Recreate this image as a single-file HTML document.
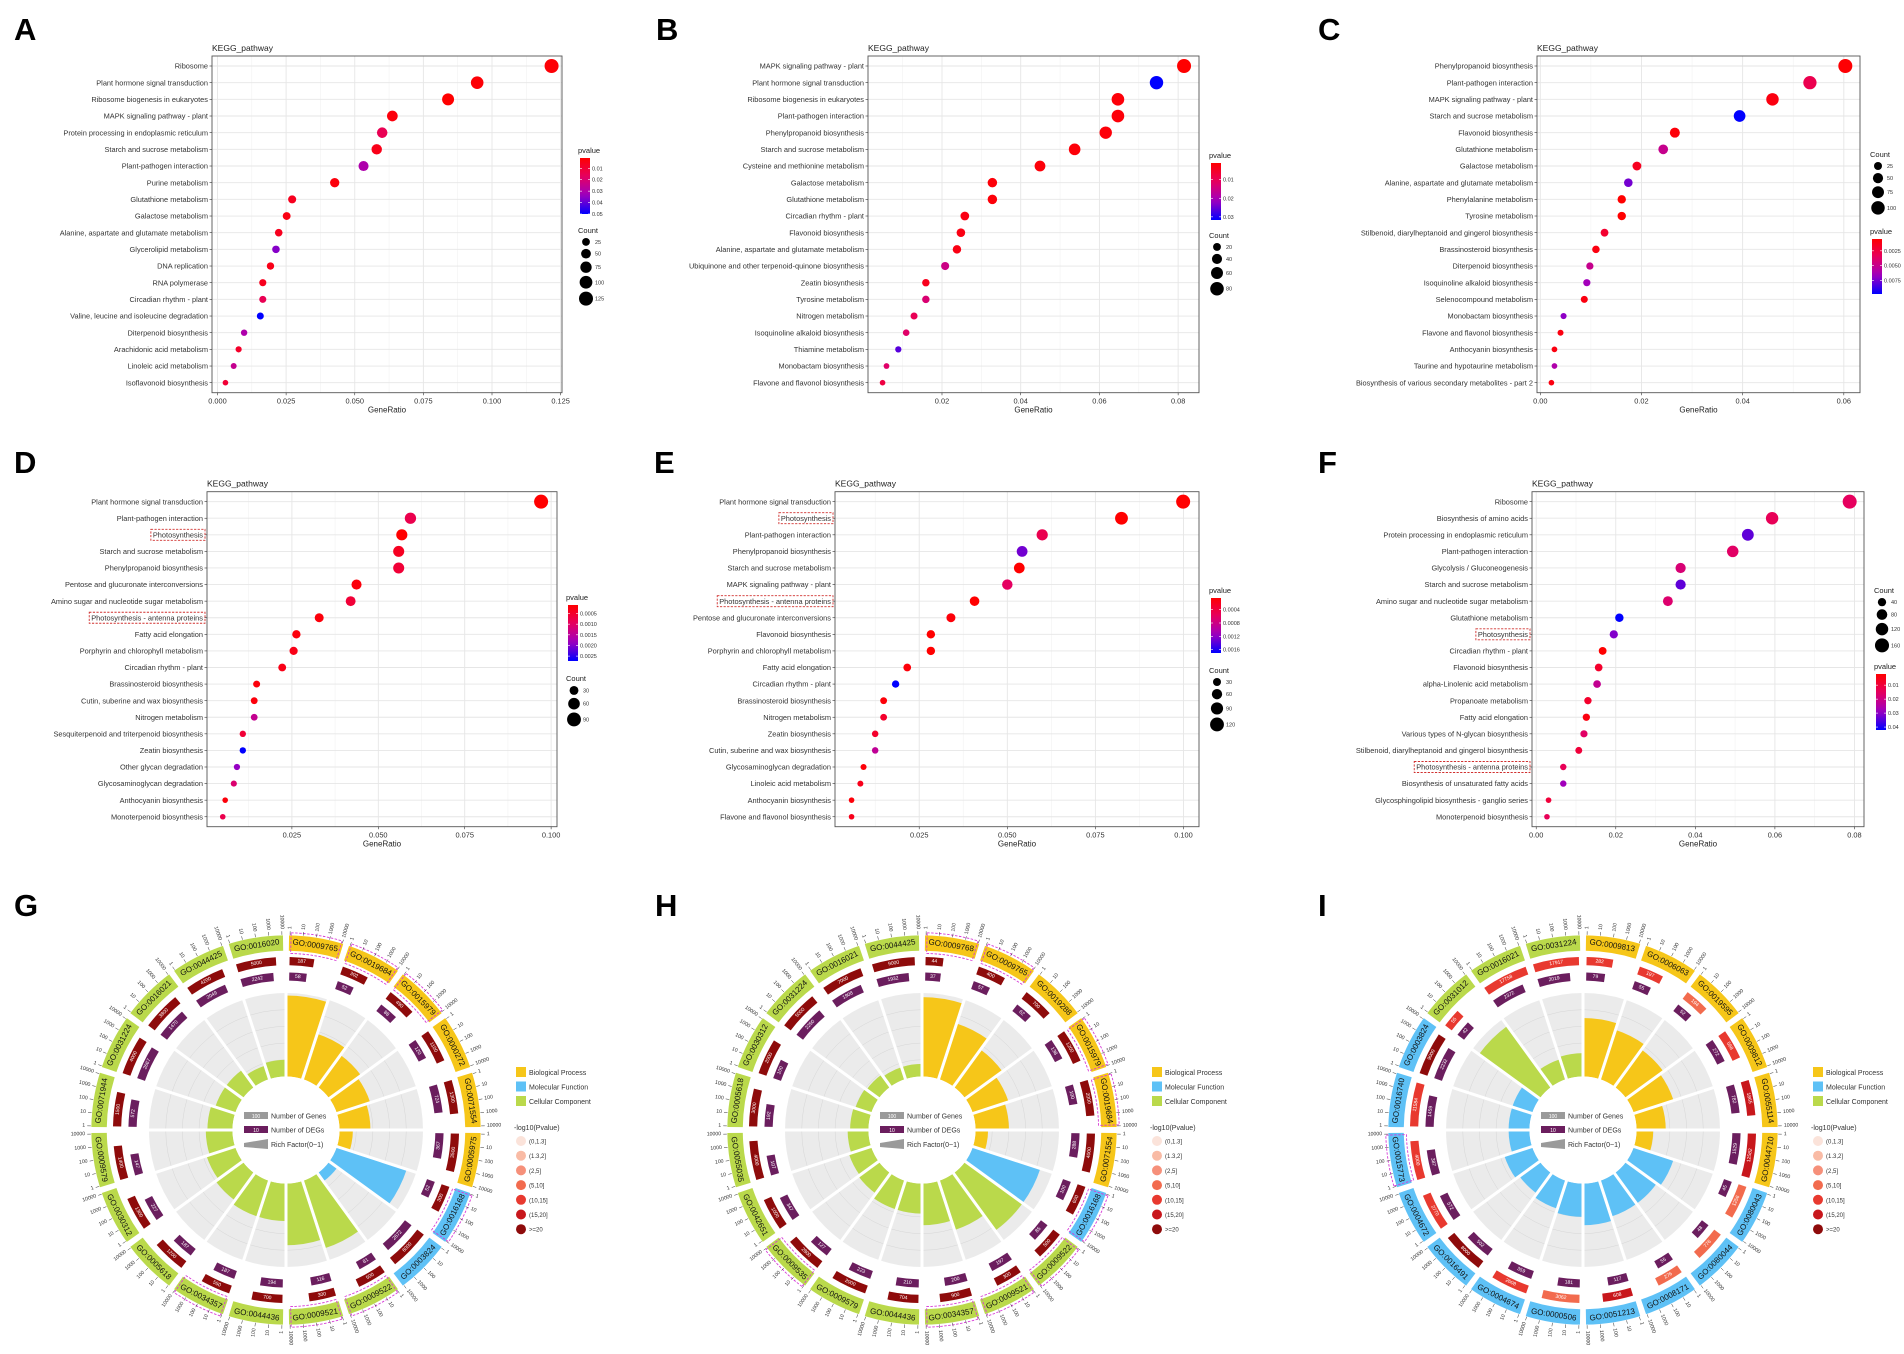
<!DOCTYPE html>
<html><head><meta charset="utf-8">
<style>
body{margin:0;background:#fff}
svg{display:block;font-family:"Liberation Sans",Arial,sans-serif}
</style></head>
<body>
<svg id="fig" width="1904" height="1354" viewBox="0 0 1904 1354">
<rect x="0" y="0" width="1904" height="1354" fill="#fff"/>
<g font-weight="bold" font-size="31" fill="#000">
<text x="14" y="40">A</text>
<text x="656" y="40">B</text>
<text x="1318" y="40">C</text>
<text x="14" y="473">D</text>
<text x="654" y="473">E</text>
<text x="1318" y="473">F</text>
<text x="14" y="916">G</text>
<text x="655" y="916">H</text>
<text x="1318" y="916">I</text>
</g>
</svg>
<script>
// ---------------- Panel A data ----------------
const A_cats=["Ribosome","Plant hormone signal transduction","Ribosome biogenesis in eukaryotes","MAPK signaling pathway - plant","Protein processing in endoplasmic reticulum","Starch and sucrose metabolism","Plant-pathogen interaction","Purine metabolism","Glutathione metabolism","Galactose metabolism","Alanine, aspartate and glutamate metabolism","Glycerolipid metabolism","DNA replication","RNA polymerase","Circadian rhythm - plant","Valine, leucine and isoleucine degradation","Diterpenoid biosynthesis","Arachidonic acid metabolism","Linoleic acid metabolism","Isoflavonoid biosynthesis"];
const A_ratio=[0.1217,0.0946,0.0840,0.0637,0.0600,0.0580,0.0532,0.0427,0.0272,0.0252,0.0223,0.0213,0.0193,0.0165,0.0165,0.0156,0.0097,0.0077,0.0059,0.0029];
const A_count=[125,97,86,65,62,60,55,44,28,26,23,22,20,17,17,16,10,8,6,3];
const A_pval=[0.002,0.002,0.001,0.003,0.015,0.005,0.03,0.003,0.006,0.004,0.006,0.036,0.005,0.006,0.015,0.05,0.03,0.008,0.025,0.01];
const A_xticks=[0,0.025,0.05,0.075,0.1,0.125];
const A_xtickLabels=["0.000","0.025","0.050","0.075","0.100","0.125"];
const A_pticks=[0.01,0.02,0.03,0.04,0.05];
const A_ptickLabels=["0.01","0.02","0.03","0.04","0.05"];
const A_cticks=[25,50,75,100,125];

// ---------------- Panel B data ----------------
const B_cats=["MAPK signaling pathway - plant","Plant hormone signal transduction","Ribosome biogenesis in eukaryotes","Plant-pathogen interaction","Phenylpropanoid biosynthesis","Starch and sucrose metabolism","Cysteine and methionine metabolism","Galactose metabolism","Glutathione metabolism","Circadian rhythm - plant","Flavonoid biosynthesis","Alanine, aspartate and glutamate metabolism","Ubiquinone and other terpenoid-quinone biosynthesis","Zeatin biosynthesis","Tyrosine metabolism","Nitrogen metabolism","Isoquinoline alkaloid biosynthesis","Thiamine metabolism","Monobactam biosynthesis","Flavone and flavonol biosynthesis"];
const B_ratio=[0.0815,0.0745,0.0647,0.0647,0.0616,0.0537,0.0449,0.0328,0.0328,0.0258,0.0248,0.0238,0.0208,0.0159,0.0159,0.0129,0.0109,0.0089,0.0059,0.0049];
const B_count=[86,78,68,68,65,56,47,34,34,27,26,25,22,17,17,14,11,9,6,5];
const B_pval=[0.001,0.0317,0.002,0.002,0.002,0.002,0.002,0.002,0.002,0.003,0.003,0.003,0.015,0.004,0.013,0.01,0.012,0.026,0.012,0.008];
const B_xticks=[0.02,0.04,0.06,0.08];
const B_xtickLabels=["0.02","0.04","0.06","0.08"];
const B_pticks=[0.01,0.02,0.03];
const B_ptickLabels=["0.01","0.02","0.03"];
const B_cticks=[20,40,60,80];

// ---------------- Panel C data ----------------
const C_cats=["Phenylpropanoid biosynthesis","Plant-pathogen interaction","MAPK signaling pathway - plant","Starch and sucrose metabolism","Flavonoid biosynthesis","Glutathione metabolism","Galactose metabolism","Alanine, aspartate and glutamate metabolism","Phenylalanine metabolism","Tyrosine metabolism","Stilbenoid, diarylheptanoid and gingerol biosynthesis","Brassinosteroid biosynthesis","Diterpenoid biosynthesis","Isoquinoline alkaloid biosynthesis","Selenocompound metabolism","Monobactam biosynthesis","Flavone and flavonol biosynthesis","Anthocyanin biosynthesis","Taurine and hypotaurine metabolism","Biosynthesis of various secondary metabolites - part 2"];
const C_ratio=[0.0603,0.0533,0.0459,0.0394,0.0266,0.0243,0.0191,0.0174,0.0161,0.0161,0.0127,0.0110,0.0098,0.0092,0.0087,0.0046,0.0040,0.0028,0.0028,0.0022];
const C_count=[109,96,83,71,48,44,34,31,29,29,23,20,18,17,16,8,7,5,5,4];
const C_pval=[0.0006,0.003,0.001,0.0098,0.0008,0.005,0.0015,0.0075,0.0005,0.0005,0.002,0.001,0.005,0.0065,0.001,0.007,0.001,0.001,0.006,0.001];
const C_xticks=[0,0.02,0.04,0.06];
const C_xtickLabels=["0.00","0.02","0.04","0.06"];
const C_pticks=[0.0025,0.005,0.0075];
const C_ptickLabels=["0.0025","0.0050","0.0075"];
const C_cticks=[25,50,75,100];

// ---------------- Panel D data ----------------
const D_cats=["Plant hormone signal transduction","Plant-pathogen interaction","Photosynthesis","Starch and sucrose metabolism","Phenylpropanoid biosynthesis","Pentose and glucuronate interconversions","Amino sugar and nucleotide sugar metabolism","Photosynthesis - antenna proteins","Fatty acid elongation","Porphyrin and chlorophyll metabolism","Circadian rhythm - plant","Brassinosteroid biosynthesis","Cutin, suberine and wax biosynthesis","Nitrogen metabolism","Sesquiterpenoid and triterpenoid biosynthesis","Zeatin biosynthesis","Other glycan degradation","Glycosaminoglycan degradation","Anthocyanin biosynthesis","Monoterpenoid biosynthesis"];
const D_ratio=[0.0971,0.0593,0.0568,0.0559,0.0559,0.0437,0.0420,0.0329,0.0263,0.0255,0.0222,0.0148,0.0141,0.0141,0.0108,0.0108,0.0091,0.0082,0.0057,0.0050];
const D_count=[92,56,54,53,53,42,40,31,25,24,21,14,13,13,10,10,9,8,5,5];
const D_pval=[0.0001,0.0008,0.0001,0.0004,0.0006,0.0002,0.0006,0.0002,0.0002,0.0003,0.0003,0.0002,0.0002,0.0014,0.0006,0.00273,0.0019,0.0011,0.0002,0.0008];
const D_xticks=[0.025,0.05,0.075,0.1];
const D_xtickLabels=["0.025","0.050","0.075","0.100"];
const D_pticks=[0.0005,0.001,0.0015,0.002,0.0025];
const D_ptickLabels=["0.0005","0.0010","0.0015","0.0020","0.0025"];
const D_cticks=[30,60,90];
const D_highlight=[2,7];

// ---------------- Panel E data ----------------
const E_cats=["Plant hormone signal transduction","Photosynthesis","Plant-pathogen interaction","Phenylpropanoid biosynthesis","Starch and sucrose metabolism","MAPK signaling pathway - plant","Photosynthesis - antenna proteins","Pentose and glucuronate interconversions","Flavonoid biosynthesis","Porphyrin and chlorophyll metabolism","Fatty acid elongation","Circadian rhythm - plant","Brassinosteroid biosynthesis","Nitrogen metabolism","Zeatin biosynthesis","Cutin, suberine and wax biosynthesis","Glycosaminoglycan degradation","Linoleic acid metabolism","Anthocyanin biosynthesis","Flavone and flavonol biosynthesis"];
const E_ratio=[0.0999,0.0824,0.0599,0.0542,0.0534,0.0500,0.0407,0.0340,0.0283,0.0283,0.0216,0.0183,0.0149,0.0149,0.0125,0.0125,0.0092,0.0083,0.0058,0.0058];
const E_count=[123,101,74,67,66,62,50,42,35,35,27,23,18,18,15,15,11,10,7,7];
const E_pval=[0.00005,0.00005,0.0005,0.0013,0.00005,0.0006,0.00005,0.0001,0.00005,0.00005,0.0001,0.0017,0.0001,0.0003,0.0003,0.0009,0.0001,0.0002,0.0001,0.0002];
const E_xticks=[0.025,0.05,0.075,0.1];
const E_xtickLabels=["0.025","0.050","0.075","0.100"];
const E_pticks=[0.0004,0.0008,0.0012,0.0016];
const E_ptickLabels=["0.0004","0.0008","0.0012","0.0016"];
const E_cticks=[30,60,90,120];
const E_highlight=[1,6];

// ---------------- Panel F data ----------------
const F_cats=["Ribosome","Biosynthesis of amino acids","Protein processing in endoplasmic reticulum","Plant-pathogen interaction","Glycolysis / Gluconeogenesis","Starch and sucrose metabolism","Amino sugar and nucleotide sugar metabolism","Glutathione metabolism","Photosynthesis","Circadian rhythm - plant","Flavonoid biosynthesis","alpha-Linolenic acid metabolism","Propanoate metabolism","Fatty acid elongation","Various types of N-glycan biosynthesis","Stilbenoid, diarylheptanoid and gingerol biosynthesis","Photosynthesis - antenna proteins","Biosynthesis of unsaturated fatty acids","Glycosphingolipid biosynthesis - ganglio series","Monoterpenoid biosynthesis"];
const F_ratio=[0.0788,0.0593,0.0532,0.0494,0.0363,0.0363,0.0331,0.0209,0.0195,0.0167,0.0157,0.0153,0.0130,0.0126,0.0120,0.0107,0.0068,0.0068,0.0031,0.0027];
const F_count=[158,119,106,99,73,73,66,42,39,33,31,31,26,25,24,21,14,14,6,5];
const F_pval=[0.015,0.014,0.034,0.016,0.018,0.034,0.017,0.0421,0.031,0.002,0.008,0.022,0.008,0.004,0.016,0.01,0.014,0.028,0.01,0.014];
const F_xticks=[0,0.02,0.04,0.06,0.08];
const F_xtickLabels=["0.00","0.02","0.04","0.06","0.08"];
const F_pticks=[0.01,0.02,0.03,0.04];
const F_ptickLabels=["0.01","0.02","0.03","0.04"];
const F_cticks=[40,80,120,160];
const F_highlight=[8,16];

// ---------------- GO circle data ----------------
const G_ids=["GO:0009765","GO:0019684","GO:0015979","GO:0000272","GO:0071554","GO:0005975","GO:0016168","GO:0003824","GO:0009522","GO:0009521","GO:0044436","GO:0034357","GO:0005618","GO:0030312","GO:0009579","GO:0071944","GO:0031224","GO:0016021","GO:0044425","GO:0016020"];
const G_cat=[0,0,0,0,0,0,1,1,2,2,2,2,2,2,2,2,2,2,2,2];
const G_rf=[0.97,0.57,0.47,0.42,0.37,0.16,0.88,0.12,0.85,0.74,0.45,0.45,0.4,0.36,0.32,0.3,0.25,0.25,0.17,0.2];
const G_genes=[187,302,490,1100,1300,3500,300,6000,500,300,700,550,1200,1300,1400,1500,4000,3800,4200,5000];
const G_degs=[58,52,88,120,724,367,52,2672,81,116,194,187,187,227,147,572,2667,1470,2049,2242];
const G_gcol=[6,6,6,6,6,6,6,6,6,6,6,6,6,6,6,6,6,6,6,6];
const G_hl=[0,1,2,6,8,9,11];

const H_ids=["GO:0009768","GO:0009765","GO:0019288","GO:0015979","GO:0019684","GO:0071554","GO:0016168","GO:0009522","GO:0009521","GO:0034357","GO:0044436","GO:0009579","GO:0009535","GO:0042651","GO:0055035","GO:0005618","GO:0030312","GO:0031224","GO:0016021","GO:0044425"];
const H_cat=[0,0,0,0,0,0,1,2,2,2,2,2,2,2,2,2,2,2,2,2];
const H_rf=[0.95,0.7,0.55,0.45,0.4,0.15,0.85,0.85,0.62,0.5,0.36,0.36,0.3,0.28,0.25,0.22,0.2,0.18,0.15,0.15];
const H_genes=[44,400,700,1200,2000,4000,600,500,300,900,704,2000,2800,1000,4000,3000,2000,5000,7000,9000];
const H_degs=[37,57,62,138,100,288,100,85,197,200,210,223,127,347,107,192,100,2250,1908,1932];
const H_gcol=[6,6,6,6,6,6,6,6,6,6,6,6,6,6,6,6,6,6,6,6];
const H_hl=[0,1,3,4,6,7,8,9,12];

const I_ids=["GO:0009813","GO:0006063","GO:0019595","GO:0009812","GO:0055114","GO:0044710","GO:0080043","GO:0080044","GO:0008171","GO:0051213","GO:0000506","GO:0004674","GO:0016491","GO:0004672","GO:0015773","GO:0016740","GO:0003824","GO:0031012","GO:0016021","GO:0031224"];
const I_cat=[0,0,0,0,0,0,1,1,1,1,1,1,1,1,1,1,1,2,2,2];
const I_rf=[0.7,0.62,0.55,0.5,0.35,0.2,0.5,0.45,0.45,0.5,0.4,0.35,0.3,0.35,0.25,0.25,0.25,0.9,0.25,0.28];
const I_genes=[282,197,194,568,1865,12582,1256,776,276,608,3062,2608,8000,2770,4000,11584,9000,55,17758,17917];
const I_degs=[79,55,52,272,782,1529,45,48,55,117,181,359,502,572,387,1459,2232,42,2372,2019];
const I_gcol=[4,4,3,4,5,5,3,3,3,5,3,4,6,4,4,4,6,4,4,4];
const I_hl=[14];

const CAT_COL=["#F6C619","#5EC1F6","#BAD94B"];
const CAT_NAMES=["Biological Process","Molecular Function","Cellular Component"];
const P_COL=["#FBE3DA","#F9BBA5","#F6907A","#F26B4E","#E8392F","#C8171C","#8E0B0B"];
const P_LABELS=["(0,1.3]","(1.3,2]","(2,5]","(5,10]","(10,15]","(15,20]",">=20"];
const TICK_LABELS=["1","10","100","1000","10000"];

// ---------------- helpers ----------------
const NS="http://www.w3.org/2000/svg";
const svg=document.getElementById("fig");
function mk(tag,attrs,parent){const e=document.createElementNS(NS,tag);for(const k in attrs)e.setAttribute(k,attrs[k]);(parent||svg).appendChild(e);return e;}
function tx(str,attrs,parent){const e=mk("text",attrs,parent);e.textContent=str;return e;}
const STOPS=[[0,[255,0,0]],[0.33,[230,0,96]],[0.66,[160,0,190]],[1,[0,0,255]]];
function pcol(t){t=Math.max(0,Math.min(1,t));for(let i=1;i<STOPS.length;i++){if(t<=STOPS[i][0]){const a=STOPS[i-1],b=STOPS[i];const f=(t-a[0])/(b[0]-a[0]);const c=a[1].map((v,j)=>Math.round(v+(b[1][j]-v)*f));return "rgb("+c.join(",")+")";}}return "rgb(0,0,255)";}
let gradId=0;

function dotPlot(P,cats,ratio,count,pval,xt,xtl,pt,ptl,ct,hl){
  const g=mk("g",{});
  
  
  const n=cats.length, step=(P.B-P.T)/(n+0.2);
  const xs=v=>P.L+(v-P.xmin)/(P.xmax-P.xmin)*(P.R-P.L);
  const ys=i=>P.T+(0.6+i)*step;
  const bg=mk("rect",{x:P.L,y:P.T,width:P.R-P.L,height:P.B-P.T,fill:"#fff"},g);
  
  
  const d=xt[1]-xt[0];
  for(let v=xt[0]-d/2;v<=P.xmax;v+=d){ if(v<P.xmin)continue;
    const l=mk("line",{x1:xs(v),x2:xs(v),y1:P.T,y2:P.B,stroke:"#f2f2f2","stroke-width":0.6},g);
    
    }
  xt.forEach(v=>{const l=mk("line",{x1:xs(v),x2:xs(v),y1:P.T,y2:P.B,stroke:"#e6e6e6","stroke-width":0.9},g);
    
    });
  cats.forEach((c,i)=>{const l=mk("line",{x1:P.L,x2:P.R,y1:ys(i),y2:ys(i),stroke:"#e6e6e6","stroke-width":0.9},g);
    
    });
  const bd=mk("rect",{x:P.L,y:P.T,width:P.R-P.L,height:P.B-P.T,fill:"none",stroke:"#555","stroke-width":0.9},g);
  
  
  const title=tx("KEGG_pathway",{x:P.L,y:P.T-5,"font-size":8.5,fill:"#222"},g);
  
  
  cats.forEach((c,i)=>{
    const t=tx(c,{x:P.L-4,y:ys(i)+2.6,"font-size":7.4,"text-anchor":"end",fill:"#333"},g);
    
    
    const tk=mk("line",{x1:P.L-2.5,x2:P.L,y1:ys(i),y2:ys(i),stroke:"#333","stroke-width":0.6},g);
    
    
    if(hl && hl.indexOf(i)>=0){const w=t.getComputedTextLength();
      const r=mk("rect",{x:P.L-6-w,y:ys(i)-5.5,width:w+4,height:11,fill:"none",stroke:"#D0302F","stroke-width":0.9,"stroke-dasharray":"2.2,1.4"},g);
      
      }
  });
  xt.forEach((v,k)=>{
    const tk=mk("line",{x1:xs(v),x2:xs(v),y1:P.B,y2:P.B+2.5,stroke:"#333","stroke-width":0.6},g);
    
    
    const t=tx(xtl[k],{x:xs(v),y:P.B+11,"font-size":7.4,"text-anchor":"middle",fill:"#333"},g);
    
    });
  const xl=tx("GeneRatio",{x:(P.L+P.R)/2,y:P.B+20,"font-size":8,"text-anchor":"middle",fill:"#222"},g);
  
  
  const pmin=Math.min(...pval),pmax=Math.max(...pval);
  const cmin=Math.min(...count),cmax=Math.max(...count);
  const rad=c=>Math.sqrt(2.8*2.8+(7*7-2.8*2.8)*Math.max(0,(c-cmin))/(cmax-cmin));
  cats.forEach((c,i)=>{
    const dot=mk("circle",{cx:xs(ratio[i]),cy:ys(i),r:rad(count[i]),fill:pcol((pval[i]-pmin)/(pmax-pmin))},g);
    
    });
  const drawP=(y0)=>{
    const lt=tx("pvalue",{x:P.lx-2,y:y0,"font-size":7.5,fill:"#222"},g);
    
    
    const id="grad"+(gradId++);
    const gr=mk("linearGradient",{id:id,x1:0,y1:0,x2:0,y2:1},g);
    for(let k=0;k<=10;k++){mk("stop",{offset:k/10,"stop-color":pcol(k/10)},gr);}
    const top=y0+5,bot=y0+5+P.bh;
    const bar=mk("rect",{x:P.lx,y:top,width:10,height:P.bh,fill:"url(#"+id+")"},g);
    
    
    pt.forEach((v,k)=>{const yy=top+(v-pmin)/(pmax-pmin)*(bot-top);
      const l1=mk("line",{x1:P.lx,x2:P.lx+2,y1:yy,y2:yy,stroke:"#fff","stroke-width":0.6},g);
      
      
      const l2=mk("line",{x1:P.lx+8,x2:P.lx+10,y1:yy,y2:yy,stroke:"#fff","stroke-width":0.6},g);
      
      
      const t=tx(ptl[k],{x:P.lx+12,y:yy+2,"font-size":5.5,fill:"#333"},g);
      
      });
  };
  const drawC=(y0)=>{
    const lt=tx("Count",{x:P.lx-2,y:y0,"font-size":7.5,fill:"#222"},g);
    
    
    let y=y0+5;
    ct.forEach(v=>{const r=rad(v);y+=r;
      const c=mk("circle",{cx:P.lx+6,cy:y,r:r,fill:"#000"},g);
      
      
      const t=tx(String(v),{x:P.lx+15,y:y+2,"font-size":5.5,fill:"#333"},g);
      
      
      y+=r+3;});
  };
  if(P.countFirst){drawC(P.ly1);drawP(P.ly2);}else{drawP(P.ly1);drawC(P.ly2);}
}

dotPlot({name:"panel-a-dotplot",L:212,R:562,T:56,B:392.7,xmin:-0.002,xmax:0.1255,lx:580,ly1:153,ly2:233,bh:56},A_cats,A_ratio,A_count,A_pval,A_xticks,A_xtickLabels,A_pticks,A_ptickLabels,A_cticks,null);
dotPlot({name:"panel-b-dotplot",L:868,R:1199,T:56,B:392.7,xmin:0.0012,xmax:0.0853,lx:1211,ly1:158,ly2:238,bh:57},B_cats,B_ratio,B_count,B_pval,B_xticks,B_xtickLabels,B_pticks,B_ptickLabels,B_cticks,null);
dotPlot({name:"panel-c-dotplot",L:1537,R:1860,T:56,B:392.7,xmin:-0.00065,xmax:0.0632,lx:1872,ly1:157,ly2:234,bh:55,countFirst:true},C_cats,C_ratio,C_count,C_pval,C_xticks,C_xtickLabels,C_pticks,C_ptickLabels,C_cticks,null);
dotPlot({name:"panel-d-dotplot",L:207,R:557,T:491.7,B:826.7,xmin:0.00044,xmax:0.1017,lx:568,ly1:600,ly2:681,bh:56},D_cats,D_ratio,D_count,D_pval,D_xticks,D_xtickLabels,D_pticks,D_ptickLabels,D_cticks,D_highlight);
dotPlot({name:"panel-e-dotplot",L:835,R:1199,T:491.7,B:826.7,xmin:0.0011,xmax:0.1044,lx:1211,ly1:593,ly2:673,bh:55},E_cats,E_ratio,E_count,E_pval,E_xticks,E_xtickLabels,E_pticks,E_ptickLabels,E_cticks,E_highlight);
dotPlot({name:"panel-f-dotplot",L:1532,R:1864,T:491.7,B:826.7,xmin:-0.00106,xmax:0.0824,lx:1876,ly1:593,ly2:669,bh:56,countFirst:true},F_cats,F_ratio,F_count,F_pval,F_xticks,F_xtickLabels,F_pticks,F_ptickLabels,F_cticks,F_highlight);

// ---------------- GO circle ----------------
function pt(cx,cy,r,a){const t=a*Math.PI/180;return [cx+r*Math.sin(t),cy-r*Math.cos(t)];}
function sector(cx,cy,r0,r1,a0,a1){
  const p1=pt(cx,cy,r1,a0),p2=pt(cx,cy,r1,a1),p3=pt(cx,cy,r0,a1),p4=pt(cx,cy,r0,a0);
  const lg=(a1-a0)>180?1:0;
  return "M"+p1[0]+","+p1[1]+"A"+r1+","+r1+" 0 "+lg+" 1 "+p2[0]+","+p2[1]+"L"+p3[0]+","+p3[1]+"A"+r0+","+r0+" 0 "+lg+" 0 "+p4[0]+","+p4[1]+"Z";
}
const SC=1.03;
function goCircle(name,cx,cy,ids,cat,rf,genes,degs,gcol,hl){
  const g=mk("g",{});
  
  
  const N=ids.length,sw=360/N,R0=52*SC,R1=133*SC;
  for(let i=0;i<N;i++){
    const a0=i*sw,a1=(i+1)*sw;
    const bgp=mk("path",{d:sector(cx,cy,R0,R1,a0,a1),fill:"#EBEBEB"},g);
    
    
  }
  for(let k=1;k<=4;k++){const c=mk("circle",{cx:cx,cy:cy,r:R0+(R1-R0)*k/5,fill:"none",stroke:"#d6d6d6","stroke-width":0.5},g);
    
    }
  for(let i=0;i<N;i++){
    const a0=i*sw,a1=(i+1)*sw;
    const b=mk("path",{d:sector(cx,cy,R0,R0+(R1-R0)*rf[i],a0,a1),fill:CAT_COL[cat[i]]},g);
    
    
  }
  for(let i=0;i<N;i++){const p1=pt(cx,cy,R0-1,i*sw),p2=pt(cx,cy,R1+1,i*sw);
    const l=mk("line",{x1:p1[0],y1:p1[1],x2:p2[0],y2:p2[1],stroke:"#fff","stroke-width":3},g);
    
    }
  const inner=mk("circle",{cx:cx,cy:cy,r:R0,fill:"#fff"},g);
  
  
  for(let i=0;i<N;i++){
    const a0=i*sw,a1=(i+1)*sw,am=(a0+a1)/2,span=sw-2.4;
    const ring=mk("path",{d:sector(cx,cy,174*SC,189*SC,a0+0.9,a1-0.9),fill:CAT_COL[cat[i]]},g);
    
    
    const lp=pt(cx,cy,181.5*SC,am);
    const rot=Math.cos(am*Math.PI/180)>=0?am:am-180;
    const lt=tx(ids[i],{x:lp[0],y:lp[1],"font-size":8,"text-anchor":"middle","dominant-baseline":"central",fill:"#111",transform:"rotate("+rot+" "+lp[0]+" "+lp[1]+")"},g);
    
    
    if(hl.indexOf(i)>=0){
      const h=mk("path",{d:sector(cx,cy,171.5*SC,191.5*SC,a0+1.5,a1-1.5),fill:"none",stroke:"#D63BD6","stroke-width":0.9,"stroke-dasharray":"2.5,1.5","stroke-linejoin":"round"},g);
      
      }
    for(let k=0;k<5;k++){
      const ta=a0+1.2+k*span/4;
      const q1=pt(cx,cy,189.5*SC,ta),q2=pt(cx,cy,193*SC,ta);
      const tl=mk("line",{x1:q1[0],y1:q1[1],x2:q2[0],y2:q2[1],stroke:"#333","stroke-width":0.5},g);
      
      
      const q3=pt(cx,cy,195*SC,ta);
      const right=ta<180;
      const tt=tx(TICK_LABELS[k],{x:q3[0],y:q3[1],"font-size":5.2,"text-anchor":right?"start":"end","dominant-baseline":"central",fill:"#333",transform:"rotate("+(right?ta-90:ta+90)+" "+q3[0]+" "+q3[1]+")"},g);
      
      
    }
    const fg=Math.min(1,Math.log10(genes[i])/4.3);
    const gb=mk("path",{d:sector(cx,cy,160*SC,168*SC,a0+1.2,a0+1.2+span*fg),fill:P_COL[gcol[i]]},g);
    
    
    const gm=a0+1.2+span*fg/2,gp=pt(cx,cy,164*SC,gm);
    const gr=Math.cos(gm*Math.PI/180)>=0?gm:gm-180;
    const gt=tx(String(genes[i]),{x:gp[0],y:gp[1],"font-size":5,"text-anchor":"middle","dominant-baseline":"central",fill:"#fff",transform:"rotate("+gr+" "+gp[0]+" "+gp[1]+")"},g);
    
    
    const fd=Math.min(1,Math.log10(degs[i])/4.3);
    const db=mk("path",{d:sector(cx,cy,145*SC,153*SC,a0+1.2,a0+1.2+span*fd),fill:"#6B1E5E"},g);
    
    
    const dm=a0+1.2+span*fd/2,dp=pt(cx,cy,149*SC,dm);
    const dr=Math.cos(dm*Math.PI/180)>=0?dm:dm-180;
    const dt=tx(String(degs[i]),{x:dp[0],y:dp[1],"font-size":5,"text-anchor":"middle","dominant-baseline":"central",fill:"#fff",transform:"rotate("+dr+" "+dp[0]+" "+dp[1]+")"},g);
    
    
  }
  const c1=mk("rect",{x:cx-42,y:cy-18,width:24,height:7,fill:"#9a9a9a"},g);
  
  
  const c1t=tx("100",{x:cx-30,y:cy-12.2,"font-size":5,"text-anchor":"middle",fill:"#fff"},g);
  
  
  const c1l=tx("Number of Genes",{x:cx-15,y:cy-11.5,"font-size":7,fill:"#333"},g);
  
  
  const c2=mk("rect",{x:cx-42,y:cy-4,width:24,height:7,fill:"#6B1E5E"},g);
  
  
  const c2t=tx("10",{x:cx-30,y:cy+1.8,"font-size":5,"text-anchor":"middle",fill:"#fff"},g);
  
  
  const c2l=tx("Number of DEGs",{x:cx-15,y:cy+2.5,"font-size":7,fill:"#333"},g);
  
  
  const c3=mk("path",{d:"M"+(cx-42)+","+(cy+13)+"L"+(cx-18)+","+(cy+9)+"L"+(cx-18)+","+(cy+19)+"L"+(cx-42)+","+(cy+17)+"Z",fill:"#9a9a9a"},g);
  
  
  const c3l=tx("Rich Factor(0~1)",{x:cx-15,y:cy+17,"font-size":7,fill:"#333"},g);
  
  
  const lx=cx+230;
  CAT_NAMES.forEach((nm,k)=>{
    const s=mk("rect",{x:lx,y:1067+k*14.5,width:10,height:10,fill:CAT_COL[k]},g);
    
    
    const t=tx(nm,{x:lx+13,y:1075+k*14.5,"font-size":7,fill:"#333"},g);
    
    });
  const pl=tx("-log10(Pvalue)",{x:lx-2,y:1130,"font-size":7,fill:"#333"},g);
  
  
  P_COL.forEach((col,k)=>{
    const c=mk("circle",{cx:lx+5,cy:1141+k*14.7,r:5,fill:col},g);
    
    
    const t=tx(P_LABELS[k],{x:lx+13,y:1143.5+k*14.7,"font-size":6,fill:"#333"},g);
    
    });
}
goCircle("panel-g-go-circle",286,1130,G_ids,G_cat,G_rf,G_genes,G_degs,G_gcol,G_hl);
goCircle("panel-h-go-circle",922,1130,H_ids,H_cat,H_rf,H_genes,H_degs,H_gcol,H_hl);
goCircle("panel-i-go-circle",1583,1130,I_ids,I_cat,I_rf,I_genes,I_degs,I_gcol,I_hl);
</script>
</body></html>
